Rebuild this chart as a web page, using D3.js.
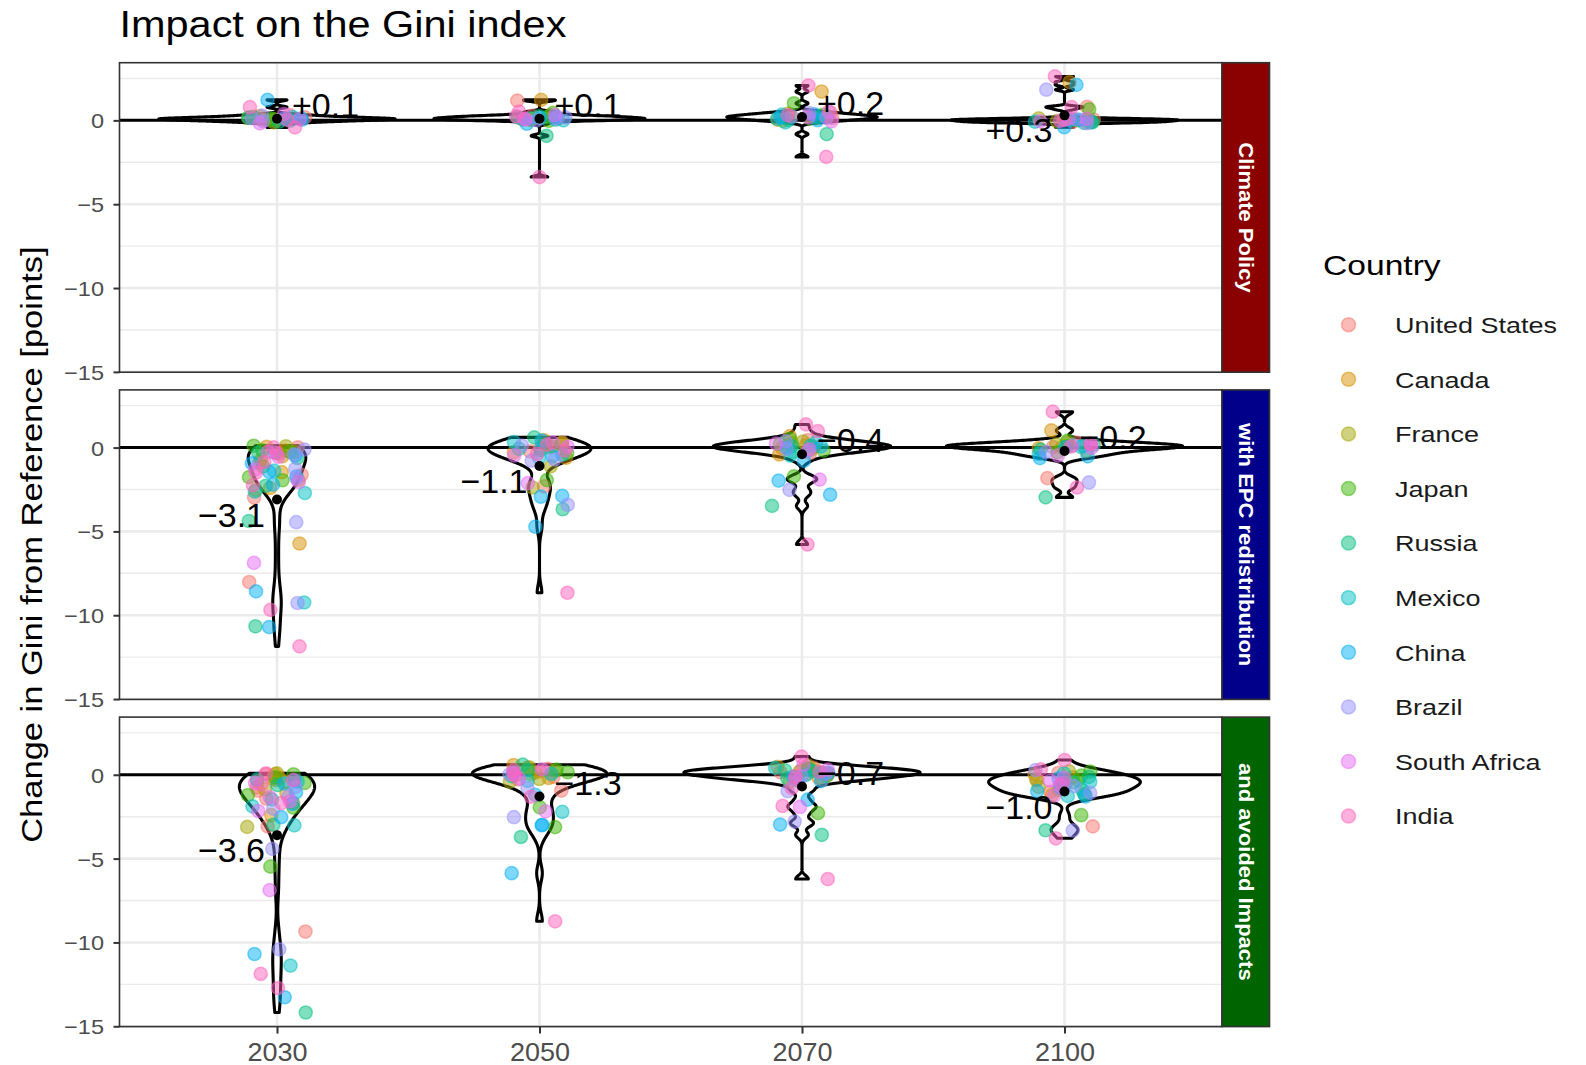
<!DOCTYPE html>
<html>
<head>
<meta charset="utf-8">
<script src="https://cdn.jsdelivr.net/npm/d3@7"></script>
<style>
  body { margin: 0; background: #ffffff; }
  text { font-family: "Liberation Sans", Arial, Helvetica, sans-serif; }
</style>
</head>
<body>
<svg id="chart" width="1586" height="1065"></svg>
<script>
// ---- Data -------------------------------------------------------------
const countries = ["United States", "Canada", "France", "Japan", "Russia",
                   "Mexico", "China", "Brazil", "South Africa", "India"];
const countryColors = ["#F8766D", "#D89000", "#A3A500", "#39B600", "#00BF7D",
                       "#00BFC4", "#00B0F6", "#9590FF", "#E76BF3", "#FF62BC"];
const years = ["2030", "2050", "2070", "2100"];
const scenarios = ["Climate Policy", "with EPC redistribution", "and avoided Impacts"];
const stripColors = ["#8B0000", "#00008B", "#006400"];
const yTicks = [0, -5, -10, -15];
const yMinorTicks = [2.5, -2.5, -7.5, -12.5];

// Change in Gini (points) per country, one inner list per country in legend order
const policy2030 = [[0.18, 0.02, 0.31], [0.09, 0.26, -0.04], [0.15, 0.06, -0.12], [0.01, 0.21, 0.11],
  [0.07, -0.08, 0.16], [-0.02, 0.19, 0.12], [1.22, 0.04, 0.09], [0.13, 0.28, -0.05],
  [0.38, -0.18, 0.08], [0.79, -0.42, 0.03]];
const policy2050 = [[1.18, 0.11, 0.27], [1.22, 0.17, 0.02], [0.31, 0.08, 0.05], [0.21, -0.03, 0.45],
  [-0.92, 0.26, 0.12], [0.04, 0.0, 0.19, 0.08], [-0.2, 0.13, 0.22], [0.18, 0.01, 0.14],
  [0.33, 0.09, 0.06], [-3.38, 0.52, 0.24]];
const policy2070 = [[0.48, 0.14, 0.29], [1.72, 0.24, 0.05], [0.22, -0.03, 0.41], [1.02, 0.12, 0.33, 0.15],
  [-0.82, 0.21, 0.02], [0.09, 0.35, -0.12], [0.19, 0.01, 0.36], [0.44, 0.15, 0.23],
  [0.52, 0.18, -0.06], [2.08, 0.31, -2.18]];
const policy2100 = [[0.81, -0.08, 0.04], [2.28, 0.03, -0.12], [0.12, -0.05, 0.06], [0.66, 0.02, -0.09],
  [0.05, -0.12, -0.15], [0.01, -0.08, -0.1], [2.12, -0.41, 0.03], [1.83, 0.07, -0.17],
  [0.1, -0.06, 0.09, -0.03], [2.62, 0.79, 0.02]];

const epc2030 = [[0.02, -0.88, -2.98, -8.02, -0.35, -1.62], [0.05, -0.52, -1.47, -2.41, -5.72, -0.18],
  [-0.27, -1.93, -2.52, 0.08, -0.71], [-0.25, -0.16, -1.76, -1.95, 0.11, -1.12],
  [-0.31, -2.28, -4.38, -10.66, -0.62], [-0.29, -2.63, -2.71, -9.24, -1.38],
  [-0.46, -1.45, -1.72, -2.21, -8.58, -10.71, -0.94], [-0.41, -1.27, -4.45, -9.27, -0.12, -1.85],
  [-0.26, -1.31, -2.05, -6.88, -0.55], [0.01, -0.86, -2.24, -9.68, -11.86, -1.49, -0.33]];
const epc2050 = [[0.31, -0.22, -2.31, -0.05], [0.44, 0.18, -0.29, -0.61], [0.27, -1.12, -2.38, 0.02],
  [0.21, -0.33, -1.94, 0.08], [0.61, -0.08, -3.68], [0.33, -0.42, -0.61, -0.15],
  [0.41, -0.52, -2.88, -2.93, -4.72], [-0.71, -0.78, -3.41, 0.12], [0.29, -0.47, -2.12, 0.05],
  [0.17, -0.18, -8.66, -0.38]];
const epc2070 = [[0.45, 0.05, -0.32, 0.18], [0.68, 0.14, -0.41, -0.03], [0.26, -0.12, 0.02, 0.36],
  [0.52, -1.72, 0.21, -0.18], [0.09, -3.48, -0.25], [0.11, -0.48, -0.02, 0.31],
  [-0.79, -1.97, -2.81, 0.07], [-2.52, -0.22, 0.38, -0.08], [-1.91, 0.24, -0.1], [1.38, 0.98, -5.78]];
const epc2100 = [[-1.82, 0.28, 0.03], [1.02, 0.31, -0.04], [0.19, 0.02, -0.21], [0.42, 0.09, -0.28],
  [-2.97, 0.17, -0.12], [0.04, -0.38, 0.11], [-0.52, 0.01, -0.63], [-2.08, 0.13, -0.27],
  [-0.48, 0.22, -0.02], [2.14, 0.23, -2.38, 0.05]];

const impacts2030 = [[0.02, -0.76, -0.94, -3.08, -9.35, -1.42, -0.21], [-0.38, 0.04, -0.21, -0.32, -1.12, -2.41],
  [0.08, -1.68, -3.11, -0.42, -0.86], [-0.49, -1.96, -5.48, 0.03, -1.21, -0.15],
  [-1.47, -2.98, -14.18, -0.62], [-0.41, -3.02, -11.38, -0.28, -1.88],
  [-0.52, -1.74, -2.53, -10.69, -13.27, -0.33, -1.05], [-1.31, -4.42, -10.41, -0.71, -2.02],
  [-1.58, -2.16, -6.88, -0.48, -1.33], [0.09, -0.31, -11.88, -12.72, -0.58, -1.69]];
const impacts2050 = [[0.21, -0.94, -0.28, 0.35, -0.12], [0.58, 0.12, -0.19, 0.41], [0.24, -0.41, 0.03, -0.25, 0.45],
  [0.31, -1.94, -3.12, 0.15], [0.6, -3.71, -0.08, 0.28], [-2.21, 0.14, -0.36, 0.05],
  [-1.19, -2.98, -3.02, -5.87], [-0.79, -2.53, 0.02], [-2.18, -0.22, 0.11, 0.32], [-1.31, -8.74, 0.28, -0.05]];
const impacts2070 = [[0.42, 0.02, 0.15, -0.31, 0.28], [0.25, -0.18, 0.06, 0.48], [0.08, 0.55, -0.42, 0.19],
  [0.38, -2.29, -0.05, 0.33], [0.27, -3.58, 0.11, -0.22], [-0.02, -0.35, 0.22, 0.41],
  [-1.48, -2.97, -0.12, 0.12, -0.38], [-0.98, -2.79, -0.12, 0.05], [-1.92, 0.31, -0.24, 0.6],
  [1.08, -0.79, -1.86, -6.22, -0.08, 0.18]];
const impacts2100 = [[-0.31, -1.02, -3.08, -0.55, 0.12], [0.04, -0.62, -0.15, -1.21], [-0.28, -0.91, 0.21, -0.72],
  [0.19, -0.33, -2.41, -0.05, -1.12], [-0.12, -1.18, -3.31, -0.45], [-0.42, -1.26, 0.08, -0.88],
  [-1.3, -0.81, -0.98, -0.22, -0.6], [-3.32, -0.68, -1.08, 0.28], [-0.61, -1.24, -0.18, -0.35],
  [0.88, -0.52, -3.79, 0.32]];

// Mean change per year (labelled next to the black dot)
const policyMean = [0.1, 0.1, 0.2, 0.3];
const epcMean = [-3.1, -1.1, -0.4, -0.2];
const impactsMean = [-3.6, -1.3, -0.7, -1.0];

// Which side of the mean dot each label sits on (1: right/above, -1: left/below)
const policyLabelSide = [1, 1, 1, -1];
const epcLabelSide = [-1, -1, 1, 1];
const impactsLabelSide = [-1, 1, 1, -1];

const panels = [
  { name: scenarios[0], strip: stripColors[0], series: [policy2030, policy2050, policy2070, policy2100],
    means: policyMean, sides: policyLabelSide },
  { name: scenarios[1], strip: stripColors[1], series: [epc2030, epc2050, epc2070, epc2100],
    means: epcMean, sides: epcLabelSide },
  { name: scenarios[2], strip: stripColors[2], series: [impacts2030, impacts2050, impacts2070, impacts2100],
    means: impactsMean, sides: impactsLabelSide }
];

// ---- Layout -----------------------------------------------------------
const svg = d3.select("#chart");
const panelLeft = 119.5, panelRight = 1222, stripRight = 1269.5;
const panelTops = [62.7, 389.9, 717.1], panelH = 309.5;
const yDomain = [-15.02, 3.44];

const x = d3.scalePoint().domain(years).range([panelLeft, panelRight]).padding(0.6);
const step = x.step();

const gridColor = "#EBEBEB", borderColor = "#333333";

// Horizontal stretch of rendered text to match the wide glyph set
function widen(sel, k) {
  sel.each(function () {
    const w = this.getComputedTextLength();
    d3.select(this).attr("textLength", w * k).attr("lengthAdjust", "spacingAndGlyphs");
  });
}

// R's bw.nrd0 bandwidth
function bwNrd0(v) {
  const s = v.slice().sort(d3.ascending);
  const sd = d3.deviation(s);
  const iqr = d3.quantileSorted(s, 0.75) - d3.quantileSorted(s, 0.25);
  let lo = Math.min(sd, iqr / 1.34);
  if (!lo) lo = sd || Math.abs(s[0]) || 1;
  return 0.9 * lo * Math.pow(s.length, -0.2);
}

// Gaussian kernel density on the data range (trimmed violin)
function density(v) {
  const bw = bwNrd0(v);
  const lo = d3.min(v), hi = d3.max(v), n = 512;
  const c = 1 / (v.length * bw * Math.sqrt(2 * Math.PI));
  return d3.range(n).map(i => {
    const t = lo + (hi - lo) * i / (n - 1);
    return [t, c * d3.sum(v, d => Math.exp(-0.5 * ((t - d) / bw) ** 2))];
  });
}

const jitter = d3.randomLcg(0.4711);
const fmt = d3.format("+.1f");

panels.forEach((p, pi) => {
  const top = panelTops[pi], bottom = top + panelH;
  const y = d3.scaleLinear().domain(yDomain).range([bottom, top]);
  const g = svg.append("g");

  // background grid
  g.append("rect").attr("x", panelLeft).attr("y", top).attr("width", panelRight - panelLeft)
    .attr("height", panelH).attr("fill", "#ffffff");
  g.selectAll(".minor").data(yMinorTicks).join("line")
    .attr("x1", panelLeft).attr("x2", panelRight).attr("y1", d => y(d)).attr("y2", d => y(d))
    .attr("stroke", gridColor).attr("stroke-width", 1.4);
  g.selectAll(".majorY").data(yTicks).join("line")
    .attr("x1", panelLeft).attr("x2", panelRight).attr("y1", d => y(d)).attr("y2", d => y(d))
    .attr("stroke", gridColor).attr("stroke-width", 2.6);
  g.selectAll(".majorX").data(years).join("line")
    .attr("x1", d => x(d)).attr("x2", d => x(d)).attr("y1", top).attr("y2", bottom)
    .attr("stroke", gridColor).attr("stroke-width", 2.6);

  // violins, scaled to equal area within the panel
  const dens = p.series.map(s => density(s.flat()));
  const maxD = d3.max(dens, d => d3.max(d, e => e[1]));
  dens.forEach((d, yi) => {
    const cx = x(years[yi]);
    const hw = v => 0.45 * step * v / maxD;
    const area = d3.area().y(e => y(e[0])).x0(e => cx - hw(e[1])).x1(e => cx + hw(e[1]));
    g.append("path").attr("d", area(d)).attr("fill", "#ffffff")
      .attr("stroke", "#000000").attr("stroke-width", 3.1).attr("stroke-linejoin", "round");
  });

  // zero line
  g.append("line").attr("x1", panelLeft).attr("x2", panelRight).attr("y1", y(0)).attr("y2", y(0))
    .attr("stroke", "#000000").attr("stroke-width", 3);

  // jittered country points
  p.series.forEach((s, yi) => {
    const cx = x(years[yi]);
    s.forEach((vals, ci) => {
      vals.forEach(v => {
        g.append("circle")
          .attr("cx", cx + (jitter() * 2 - 1) * 0.115 * step)
          .attr("cy", y(v)).attr("r", 6.6)
          .attr("fill", countryColors[ci]).attr("fill-opacity", 0.5)
          .attr("stroke", countryColors[ci]).attr("stroke-opacity", 0.5).attr("stroke-width", 1.5);
      });
    });
  });

  // mean dots and labels
  p.means.forEach((m, yi) => {
    const cx = x(years[yi]), cy = y(m), side = p.sides[yi];
    g.append("circle").attr("cx", cx).attr("cy", cy).attr("r", 5).attr("fill", "#000000");
    g.append("text")
      .attr("x", side > 0 ? cx + 15 : cx - 12)
      .attr("y", (side > 0 ? cy - 14 : cy + 15) + 12)
      .attr("text-anchor", side > 0 ? "start" : "end")
      .attr("font-size", 34).attr("fill", "#000000")
      .text(fmt(m));
  });

  // panel border
  g.append("rect").attr("x", panelLeft).attr("y", top).attr("width", panelRight - panelLeft)
    .attr("height", panelH).attr("fill", "none").attr("stroke", borderColor).attr("stroke-width", 1.6);

  // strip
  g.append("rect").attr("x", panelRight).attr("y", top).attr("width", stripRight - panelRight)
    .attr("height", panelH).attr("fill", p.strip).attr("stroke", borderColor).attr("stroke-width", 1.6);
  const st = g.append("text")
    .attr("transform", `translate(${(panelRight + stripRight) / 2 - 7},${top + panelH / 2}) rotate(90)`)
    .attr("text-anchor", "middle").attr("font-size", 20).attr("font-weight", "bold")
    .attr("fill", "#ffffff").text(p.name);
  widen(st, 1.1);

  // y axis
  const ax = g.append("g").attr("transform", `translate(${panelLeft},0)`)
    .call(d3.axisLeft(y).tickValues(yTicks).tickSize(6).tickPadding(9.5));
  ax.select(".domain").remove();
  ax.attr("font-family", null);
  ax.selectAll(".tick line").attr("stroke", borderColor).attr("stroke-width", 2);
  ax.selectAll(".tick text").attr("font-size", 21).attr("fill", "#4D4D4D").attr("dy", "0.36em");
  widen(ax.selectAll(".tick text"), 1.12);
});

// x axis under the last panel
const xb = svg.append("g").attr("transform", `translate(0,${panelTops[2] + panelH})`)
  .call(d3.axisBottom(x).tickSize(7).tickPadding(9.5));
xb.select(".domain").remove();
xb.attr("font-family", null);
xb.selectAll(".tick line").attr("stroke", borderColor).attr("stroke-width", 2);
xb.selectAll(".tick text").attr("font-size", 25).attr("fill", "#4D4D4D");
widen(xb.selectAll(".tick text"), 1.08);

// title
const title = svg.append("text").attr("x", 119.5).attr("y", 37).attr("font-size", 37)
  .attr("fill", "#000000").text("Impact on the Gini index");
widen(title, 1.12);

// y axis title
const yt = svg.append("text")
  .attr("transform", `translate(42,${(panelTops[0] + panelTops[2] + panelH) / 2}) rotate(-90)`)
  .attr("text-anchor", "middle").attr("font-size", 30).attr("fill", "#000000")
  .text("Change in Gini from Reference [points]");
widen(yt, 1.15);

// legend
const lg = svg.append("g");
const lt = lg.append("text").attr("x", 1323).attr("y", 275).attr("font-size", 28)
  .attr("fill", "#000000").text("Country");
widen(lt, 1.2);
countries.forEach((c, i) => {
  const cy = 324.7 + i * 54.6;
  lg.append("circle").attr("cx", 1348.5).attr("cy", cy).attr("r", 7)
    .attr("fill", countryColors[i]).attr("fill-opacity", 0.5)
    .attr("stroke", countryColors[i]).attr("stroke-opacity", 0.5).attr("stroke-width", 1.5);
  const t = lg.append("text").attr("x", 1395).attr("y", cy + 8.2).attr("font-size", 22.5)
    .attr("fill", "#1A1A1A").text(c);
  widen(t, 1.2);
});
</script>
</body>
</html>
